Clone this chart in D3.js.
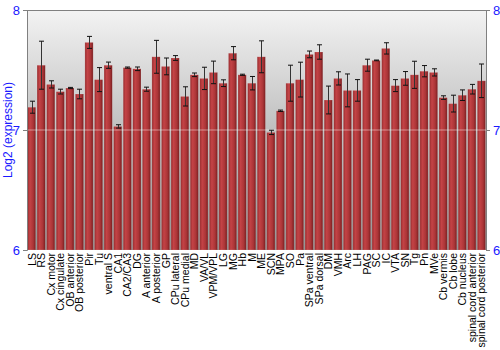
<!DOCTYPE html>
<html>
<head>
<meta charset="utf-8">
<script src="https://cdn.jsdelivr.net/npm/d3@7"></script>
<style>
  body { margin: 0; background: #fff; }
  svg { font-family: "Liberation Sans", Arial, sans-serif; }
</style>
</head>
<body>
<svg id="chart" width="500" height="350"></svg>
<script>
// data
const regions = ['LS', 'RS', 'Cx motor', 'Cx cingulate', 'OB anterior', 'OB posterior', 'Pir', 'Tu',
  'ventral S', 'CA1', 'CA2/CA3', 'DG', 'A anterior', 'A posterior', 'GP', 'CPu lateral', 'CPu medial',
  'MD', 'VA/VL', 'VPM/VPL', 'LG', 'MG', 'Hb', 'M', 'ME', 'SCN', 'MPA', 'SO', 'Pa', 'SPa ventral',
  'SPa dorsal', 'DM', 'VMH', 'Arc', 'LH', 'PAG', 'SC', 'IC', 'VTA', 'SN', 'Tg', 'Pn', 'MVe',
  'Cb vermis', 'Cb lobe', 'Cb nucleus', 'spinal cord anterior', 'spinal cord posterior'];

const expression = [7.19, 7.54, 7.38, 7.32, 7.35, 7.30, 7.73, 7.42,
  7.54, 7.03, 7.52, 7.51, 7.34, 7.61, 7.53, 7.60, 7.28,
  7.46, 7.43, 7.48, 7.39, 7.64, 7.46, 7.39, 7.61, 6.98, 7.16, 7.39, 7.42, 7.63,
  7.65, 7.25, 7.43, 7.33, 7.33, 7.54, 7.58, 7.68, 7.37, 7.43, 7.46, 7.49, 7.48,
  7.27, 7.22, 7.29, 7.34, 7.41];

const errors = [0.05, 0.20, 0.03, 0.02, 0.005, 0.04, 0.05, 0.10,
  0.026, 0.014, 0.005, 0.015, 0.017, 0.137, 0.07, 0.02, 0.08,
  0.015, 0.093, 0.094, 0.028, 0.055, 0.005, 0.056, 0.133, 0.018, 0.006, 0.15, 0.145, 0.028,
  0.06, 0.116, 0.055, 0.137, 0.09, 0.05, 0.003, 0.047, 0.05, 0.057, 0.113, 0.047, 0.03,
  0.015, 0.07, 0.044, 0.04, 0.14];

const yTicks = [6, 7, 8];

const margin = { top: 10, right: 14, bottom: 100, left: 27 };
const width = 500, height = 350;

const svg = d3.select('#chart');
const defs = svg.append('defs');

const bg = defs.append('linearGradient')
  .attr('id', 'bg').attr('x1', 0).attr('y1', 0).attr('x2', 0).attr('y2', 1);
bg.append('stop').attr('offset', '0%').attr('stop-color', '#f3f3f3');
bg.append('stop').attr('offset', '100%').attr('stop-color', '#8c8c8c');

const barGrad = defs.append('linearGradient')
  .attr('id', 'bar').attr('x1', 0).attr('y1', 0).attr('x2', 1).attr('y2', 0);
barGrad.append('stop').attr('offset', '0%').attr('stop-color', '#962c2e');
barGrad.append('stop').attr('offset', '30%').attr('stop-color', '#c44346');
barGrad.append('stop').attr('offset', '70%').attr('stop-color', '#ab3537');
barGrad.append('stop').attr('offset', '100%').attr('stop-color', '#781e20');

const x = d3.scaleBand()
  .domain(regions)
  .range([margin.left, width - margin.right])
  .paddingInner(0.14)
  .paddingOuter(0.05);

const y = d3.scaleLinear()
  .domain([6, 8])
  .range([height - margin.bottom, margin.top]);

// plot background
svg.append('rect')
  .attr('x', margin.left)
  .attr('y', margin.top)
  .attr('width', width - margin.left - margin.right)
  .attr('height', height - margin.top - margin.bottom)
  .attr('fill', 'url(#bg)');

const rows = regions.map((r, i) => ({ name: r, value: expression[i], err: errors[i] }));

svg.append('g')
  .selectAll('rect')
  .data(rows)
  .join('rect')
    .attr('x', d => x(d.name))
    .attr('y', d => y(d.value))
    .attr('width', x.bandwidth())
    .attr('height', d => y(6) - y(d.value))
    .attr('fill', 'url(#bar)')
    .attr('stroke', 'rgba(255,255,255,0.25)')
    .attr('stroke-width', 0.6);

// faint gridline at 7
svg.append('line')
  .attr('x1', margin.left).attr('x2', width - margin.right)
  .attr('y1', y(7)).attr('y2', y(7))
  .attr('stroke', 'rgba(255,255,255,0.45)')
  .attr('stroke-width', 1);

// error bars
const eb = svg.append('g').attr('stroke', '#111').attr('stroke-width', 1);
rows.forEach(d => {
  const cx = Math.round(x(d.name) + x.bandwidth() / 2) + 0.5;
  eb.append('line')
    .attr('x1', cx).attr('x2', cx)
    .attr('y1', y(d.value + d.err)).attr('y2', y(d.value - d.err))
    .attr('stroke', '#333');
  [d.value + d.err, d.value - d.err].forEach(v => {
    eb.append('line')
      .attr('x1', cx - 2.5).attr('x2', cx + 2.5)
      .attr('y1', y(v)).attr('y2', y(v));
  });
});

// top frame line
svg.append('line')
  .attr('x1', margin.left).attr('x2', width - margin.right)
  .attr('y1', margin.top + 0.5).attr('y2', margin.top + 0.5)
  .attr('stroke', '#808080');

const yAxisLeft = svg.append('g')
  .attr('transform', `translate(${margin.left},0)`)
  .call(d3.axisLeft(y).tickValues(yTicks).tickFormat(d3.format('d')).tickSize(4).tickPadding(3));

const yAxisRight = svg.append('g')
  .attr('transform', `translate(${width - margin.right},0)`)
  .call(d3.axisRight(y).tickValues(yTicks).tickFormat(d3.format('d')).tickSize(4).tickPadding(3));

[yAxisLeft, yAxisRight].forEach(g => {
  g.select('.domain').attr('stroke', '#808080');
  g.selectAll('.tick line').attr('stroke', '#808080');
  g.selectAll('.tick text')
    .attr('fill', '#1a1aff')
    .style('font-size', '13px')
    .style('font-family', '"Liberation Sans", Arial, sans-serif');
});

// category labels, vertical
svg.append('g')
  .selectAll('text')
  .data(regions)
  .join('text')
    .attr('transform', d => `translate(${x(d) + x.bandwidth() / 2 + 4},${y(6) + 3}) rotate(-90)`)
    .attr('text-anchor', 'end')
    .attr('fill', '#000')
    .style('font-size', '10.5px')
    .text(d => d);

// y title
svg.append('text')
  .attr('transform', `translate(12,${(y(6) + y(8)) / 2}) rotate(-90)`)
  .attr('text-anchor', 'middle')
  .attr('fill', '#1a1aff')
  .style('font-size', '12px')
  .text('Log2 (expression)');
</script>
</body>
</html>
